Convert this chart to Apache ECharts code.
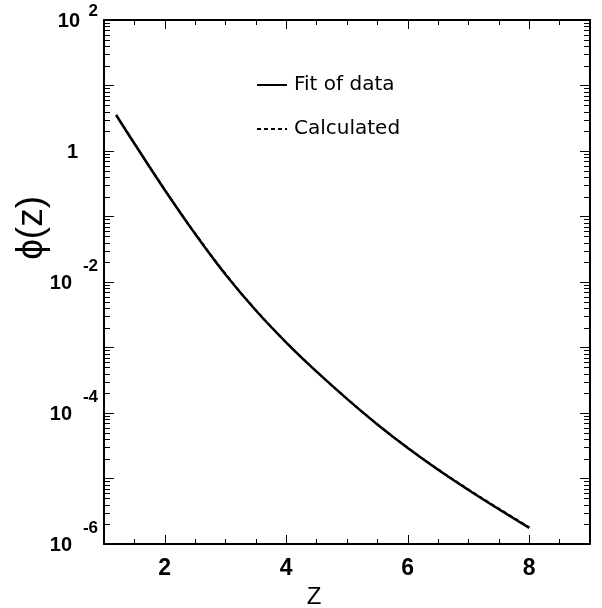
<!DOCTYPE html>
<html>
<head>
<meta charset="utf-8">
<script src="https://cdn.jsdelivr.net/npm/echarts@6/dist/echarts.min.js"></script>
<style>
  html, body { margin: 0; padding: 0; background: #fff; }
  #chart { width: 602px; height: 608px; }
</style>
</head>
<body>
<div id="chart"></div>
<script>
// values
const zValues = [1.2, 1.5, 2, 2.5, 3, 3.5, 4, 4.5, 5, 5.5, 6, 6.5, 7, 7.5, 8];
const fitValues = [3.55, 1.30, 0.254, 0.0543, 0.0130, 3.67e-3, 1.19e-3, 4.27e-4,
  1.64e-4, 6.68e-5, 2.92e-5, 1.36e-5, 6.68e-6, 3.39e-6, 1.76e-6];
const calcValues = [3.55, 1.31, 0.257, 0.0552, 0.0133, 3.72e-3, 1.2e-3, 4.3e-4,
  1.65e-4, 6.72e-5, 2.95e-5, 1.38e-5, 6.8e-6, 3.47e-6, 1.8e-6];

// decades of the log axis; minor ticks at 2..9 of each
const yDecades = [1e-6, 1e-5, 1e-4, 1e-3, 1e-2, 1e-1, 1, 1e1];
const minorSteps = [2, 3, 4, 5, 6, 7, 8, 9];

const black = "#000";

const yMinorTicks = [];
yDecades.forEach(function (d) {
  minorSteps.forEach(function (k) { yMinorTicks.push(d * k); });
});

// y labels only on every second decade, written as 10 with a raised exponent
function yLabel(v) {
  const e = Math.round(Math.log10(v));
  if (e % 2 !== 0) return "";
  if (e === 0) return "{e| }\n{one|1}\n{e3| }";
  if (e === 2) return "{e2|2}\n{top|10}";
  return "{e|" + e + "}\n{b|10}\n{e3| }";
}

const chart = echarts.init(document.getElementById("chart"));

const yBase = {
  type: "log",
  logBase: 10,
  min: 1e-6,
  max: 1e2,
  splitLine: { show: false },
  axisLine: { show: true, lineStyle: { color: black, width: 2 } },
  axisTick: { show: true, inside: true, length: 10, lineStyle: { color: black, width: 1 } }
};
// major x ticks (2, 4, 6, 8)
const xMajor = {
  type: "value",
  min: 1,
  max: 9,
  splitLine: { show: false },
  axisLine: { show: true, lineStyle: { color: black, width: 2 } },
  axisTick: { show: true, inside: true, length: 9, lineStyle: { color: black, width: 1 } }
};
// short x ticks every 0.5
const xMinor = {
  type: "value",
  min: 1,
  max: 9,
  interval: 0.5,
  splitLine: { show: false },
  axisLine: { show: false },
  axisLabel: { show: false },
  axisTick: { show: true, inside: true, length: 5, lineStyle: { color: black, width: 1 } }
};

// short log ticks on both vertical edges, drawn through the y axis' scale
function renderMinorTick(params, api) {
  const left = api.coord([1, api.value(1)]);
  const right = api.coord([9, api.value(1)]);
  const y = Math.round(left[1]) + 0.5;
  return {
    type: "group",
    children: [
      { type: "line", shape: { x1: left[0], y1: y, x2: left[0] + 6, y2: y }, style: { stroke: black, lineWidth: 1 } },
      { type: "line", shape: { x1: right[0] - 6, y1: y, x2: right[0], y2: y }, style: { stroke: black, lineWidth: 1 } }
    ]
  };
}

const option = {
  backgroundColor: "#fff",
  animation: false,
  grid: { left: 104, right: 12, top: 20, bottom: 64, containLabel: false, outerBoundsMode: "none" },
  legend: {
    orient: "vertical",
    left: 256,
    top: 75,
    padding: 0,
    itemWidth: 30,
    itemHeight: 14,
    itemGap: 24,
    itemStyle: { opacity: 0 },
    textStyle: { fontFamily: "DejaVu Sans", fontSize: 20, color: black, padding: [0, 0, 0, 2] },
    data: ["Fit of data", "Calculated"]
  },
  xAxis: [
    Object.assign({}, xMajor, {
      position: "bottom",
      name: "Z",
      nameLocation: "middle",
      nameGap: 30,
      nameTextStyle: { fontFamily: "Liberation Sans", fontSize: 24, color: black, padding: [0, 66, 0, 0] },
      axisLabel: {
        margin: 13, showMinLabel: false, showMaxLabel: false,
        fontFamily: "Liberation Sans", fontWeight: "bold", fontSize: 23, color: black
      }
    }),
    Object.assign({}, xMajor, { position: "top", axisLabel: { show: false } }),
    Object.assign({}, xMinor, { position: "bottom" }),
    Object.assign({}, xMinor, { position: "top" })
  ],
  yAxis: [
    Object.assign({}, yBase, {
      position: "left",
      axisLabel: {
        margin: 6,
        formatter: yLabel,
        color: black,
        rich: {
          e: { fontFamily: "Liberation Sans", fontWeight: "bold", fontSize: 17, lineHeight: 16, color: black },
          e2: { fontFamily: "Liberation Sans", fontWeight: "bold", fontSize: 17, lineHeight: 2, color: black },
          e3: { fontSize: 10, lineHeight: 14 },
          b: { fontFamily: "Liberation Sans", fontWeight: "bold", fontSize: 20, lineHeight: 18, color: black, padding: [0, 26, 0, 0] },
          top: { fontFamily: "Liberation Sans", fontWeight: "bold", fontSize: 20, lineHeight: 18, color: black, padding: [0, 18, 0, 0] },
          one: { fontFamily: "Liberation Sans", fontWeight: "bold", fontSize: 20, lineHeight: 18, color: black, padding: [0, 20, 0, 0] }
        }
      }
    }),
    Object.assign({}, yBase, { position: "right", axisLabel: { show: false } })
  ],
  graphic: [{
    type: "text",
    left: 13,
    top: 196,
    rotation: Math.PI / 2,
    style: { text: "ϕ(z)", font: "37px 'Liberation Sans'", fill: black }
  }],
  series: [
    {
      name: "minor ticks",
      type: "custom",
      silent: true,
      clip: false,
      xAxisIndex: 0,
      yAxisIndex: 0,
      encode: { x: 0, y: 1 },
      renderItem: renderMinorTick,
      data: yMinorTicks.map(function (v) { return [1, v]; })
    },
    {
      name: "Calculated",
      type: "line",
      smooth: 0.4,
      symbol: "none",
      lineStyle: { color: black, width: 2, type: [4, 3] },
      itemStyle: { color: black },
      data: zValues.map(function (z, i) { return [z, calcValues[i]]; })
    },
    {
      name: "Fit of data",
      type: "line",
      smooth: 0.4,
      symbol: "none",
      lineStyle: { color: black, width: 2.5 },
      itemStyle: { color: black },
      data: zValues.map(function (z, i) { return [z, fitValues[i]]; })
    }
  ]
};

chart.setOption(option);
</script>
</body>
</html>
